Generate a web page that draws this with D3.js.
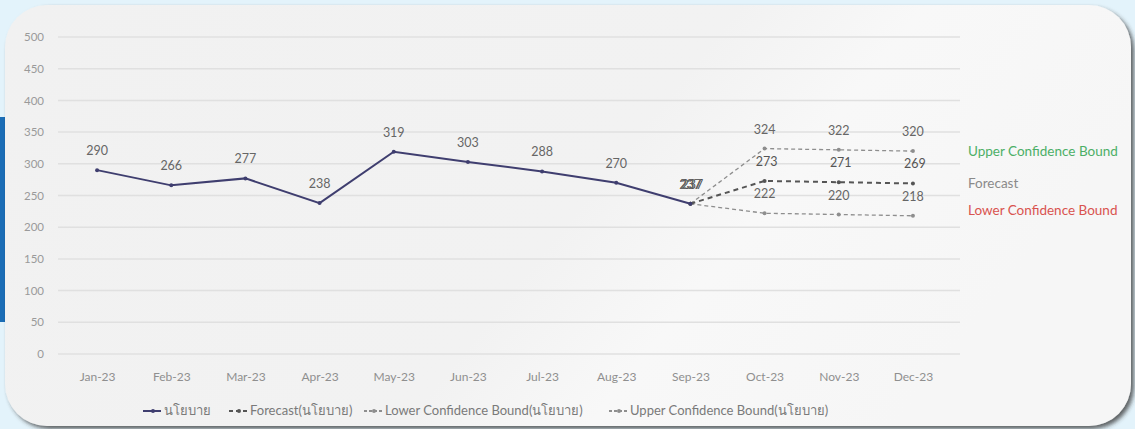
<!DOCTYPE html>
<html><head><meta charset="utf-8">
<script src="https://cdn.jsdelivr.net/npm/d3@7"></script>
<style>
html,body{margin:0;padding:0;background:#e3f3fb;}
svg{display:block;font-family:Lato,"Noto Sans",sans-serif;}
</style></head>
<body>
<svg id="c" width="1135" height="429"></svg>
<script>
const months = ["Jan-23","Feb-23","Mar-23","Apr-23","May-23","Jun-23","Jul-23","Aug-23","Sep-23","Oct-23","Nov-23","Dec-23"];
const actualValues = [290,266,277,238,319,303,288,270,237];
const forecastMonths = ["Sep-23","Oct-23","Nov-23","Dec-23"];
const forecastValues = [237,273,271,269];
const lowerValues = [237,222,220,218];
const upperValues = [237,324,322,320];
const yTicks = [0,50,100,150,200,250,300,350,400,450,500];
const legendLabels = ["นโยบาย","Forecast(นโยบาย)","Lower Confidence Bound(นโยบาย)","Upper Confidence Bound(นโยบาย)"];
const sideLabels = ["Upper Confidence Bound","Forecast","Lower Confidence Bound"];

const svg = d3.select("#c");
const defs = svg.append("defs");
const g1 = defs.append("linearGradient").attr("id","bg").attr("x1","0").attr("y1","0").attr("x2","1").attr("y2","0.3");
g1.append("stop").attr("offset","0").attr("stop-color","#f1f1f1");
g1.append("stop").attr("offset","0.6").attr("stop-color","#f2f2f2");
g1.append("stop").attr("offset","0.75").attr("stop-color","#f8f8f8");
g1.append("stop").attr("offset","1").attr("stop-color","#f6f6f6");
const f = defs.append("filter").attr("id","sh").attr("x","-5%").attr("y","-5%").attr("width","110%").attr("height","115%");
f.append("feDropShadow").attr("dx",3).attr("dy",3).attr("stdDeviation",2).attr("flood-color","#333").attr("flood-opacity",0.75);

// left blue bar
svg.append("rect").attr("x",0).attr("y",117).attr("width",6).attr("height",205).attr("fill","#1b6db6");
// card
svg.append("rect").attr("x",5).attr("y",5).attr("width",1126).attr("height",421).attr("rx",42).attr("ry",42)
  .attr("fill","url(#bg)").attr("filter","url(#sh)");

const x = d3.scalePoint().domain(months).range([60,950]).padding(0.5);
const y = d3.scaleLinear().domain([0,500]).range([354,37]);

// grid
svg.append("g").selectAll("line").data(yTicks).join("line")
  .attr("x1",58).attr("x2",960).attr("y1",d=>y(d)).attr("y2",d=>y(d))
  .attr("stroke","#e0e0e0").attr("stroke-width",1.5);

// y axis labels
const yAxis = d3.axisLeft(y).tickValues(yTicks).tickSize(0).tickPadding(0);
const ya = svg.append("g").attr("transform","translate(44,0)").call(yAxis);
ya.select(".domain").remove();
ya.selectAll("text").attr("fill","#9a9a9a").style("font-size","11.5px").style("font-family","Lato");

// x axis labels
const xAxis = d3.axisBottom(x).tickSize(0).tickPadding(0);
const xa = svg.append("g").attr("transform","translate(0,372)").call(xAxis);
xa.select(".domain").remove();
xa.selectAll("text").attr("fill","#8f8f8f").style("font-size","12px").style("font-family","Lato");

const line = d3.line().x(d=>x(d[0])).y(d=>y(d[1]));

const actual = actualValues.map((v,i)=>[months[i],v]);
const fc = forecastValues.map((v,i)=>[forecastMonths[i],v]);
const lo = lowerValues.map((v,i)=>[forecastMonths[i],v]);
const up = upperValues.map((v,i)=>[forecastMonths[i],v]);

function series(data,color,width,dash,labelColor,labelOffsetX){
  svg.append("path").attr("d",line(data)).attr("fill","none").attr("stroke",color)
    .attr("stroke-width",width).attr("stroke-dasharray",dash);
  svg.append("g").selectAll("circle").data(data).join("circle")
    .attr("cx",d=>x(d[0])).attr("cy",d=>y(d[1])).attr("r",2).attr("fill",color);
  svg.append("g").selectAll("text").data(data).join("text")
    .attr("x",d=>x(d[0])+(labelOffsetX||0)).attr("y",d=>y(d[1])-15).attr("text-anchor","middle")
    .attr("fill",labelColor).style("font-size","12.5px").text(d=>d[1]);
}
series(up,"#8e8e8e",1.3,"4,3","#666",0);
series(lo,"#8e8e8e",1.3,"4,3","#666",0);
series(fc,"#555",2,"5,4","#555",2);
series(actual,"#3f3e6f",2,null,"#666",0);

// side labels
const sideColors = ["#4caf66","#8a8a8a","#d9534f"];
const sideY = [up[3][1], fc[3][1], lo[3][1]];
svg.append("g").selectAll("text").data(sideLabels).join("text")
  .attr("x",968).attr("y",(d,i)=>y(sideY[i])+[5,5,-1][i]).attr("fill",(d,i)=>sideColors[i])
  .style("font-size","13.5px").text(d=>d);

// legend
const legendX = [143,229,364,609];
const legendColors = ["#3f3e6f","#555","#8e8e8e","#8e8e8e"];
const legendDash = [null,"4,3","3,2","3,2"];
const lg = svg.append("g").attr("transform","translate(0,411)");
legendLabels.forEach((t,i)=>{
  const gg = lg.append("g").attr("transform",`translate(${legendX[i]},0)`);
  gg.append("line").attr("x1",0).attr("x2",18).attr("y1",0).attr("y2",0)
    .attr("stroke",legendColors[i]).attr("stroke-width",2).attr("stroke-dasharray",legendDash[i]);
  gg.append("circle").attr("cx",10).attr("cy",0).attr("r",2).attr("fill",legendColors[i]);
  gg.append("text").attr("x",21).attr("y",4).attr("fill","#7a7a7a").style("font-size","13px").text(t);
});
</script>
</body></html>
